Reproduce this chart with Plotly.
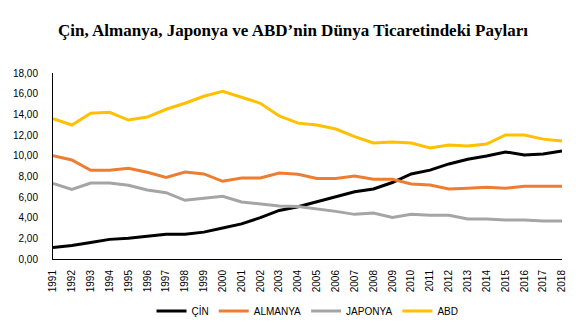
import plotly.graph_objects as go

years = [str(y) for y in range(1991, 2019)]
cin = [1.10, 1.30, 1.60, 1.90, 2.00, 2.20, 2.40, 2.40, 2.60, 3.00, 3.40, 4.00, 4.70, 5.05,
       5.55, 6.03, 6.50, 6.77, 7.40, 8.23, 8.60, 9.20, 9.65, 9.97, 10.36, 10.07, 10.16, 10.45]
almanya = [10.00, 9.58, 8.58, 8.58, 8.78, 8.39, 7.90, 8.42, 8.23, 7.52, 7.84, 7.84, 8.32, 8.20,
           7.80, 7.80, 8.03, 7.71, 7.71, 7.26, 7.16, 6.77, 6.84, 6.94, 6.84, 7.03, 7.03, 7.03]
japonya = [7.32, 6.74, 7.35, 7.35, 7.13, 6.68, 6.42, 5.68, 5.87, 6.07, 5.52, 5.32, 5.13, 5.08,
           4.87, 4.61, 4.32, 4.45, 4.03, 4.32, 4.23, 4.23, 3.87, 3.87, 3.78, 3.78, 3.68, 3.68]
abd = [13.58, 12.97, 14.10, 14.20, 13.45, 13.74, 14.49, 15.07, 15.75, 16.23, 15.65, 15.07, 13.84, 13.15,
       12.97, 12.58, 11.84, 11.23, 11.33, 11.23, 10.74, 11.03, 10.94, 11.13, 12.00, 12.00, 11.60, 11.42]

series = [("ÇİN", cin, "#000000"), ("ALMANYA", almanya, "#ED7D31"),
          ("JAPONYA", japonya, "#A5A5A5"), ("ABD", abd, "#FFC000")]

fig = go.Figure()
for name, vals, col in series:
    fig.add_trace(go.Scatter(x=years, y=vals, name=name, mode="lines",
                             line=dict(color=col, width=3)))

fig.update_layout(
    width=586, height=326,
    margin=dict(l=53, r=24, t=73, b=67, autoexpand=False),
    paper_bgcolor="white", plot_bgcolor="white",
    separators=",.",
    title=dict(text="Çin, Almanya, Japonya ve ABD’nin Dünya Ticaretindeki Payları",
               font=dict(family="Liberation Serif", size=17, color="#000000", weight="bold"),
               x=0.5, xanchor="center", y=1 - 30/326, yanchor="middle", yref="container"),
    font=dict(family="Liberation Sans", size=10, color="#000000"),
    showlegend=True,
    legend=dict(orientation="h", x=0.5, xanchor="center", y=1 - 311/326, yanchor="middle",
                yref="container", font=dict(size=10), itemwidth=30),
    xaxis=dict(type="category", showgrid=False, showline=True, linecolor="#000000",
               linewidth=1, ticks="", tickangle=-90, tickfont=dict(size=10),
               ticklabelstandoff=6, automargin=False),
    yaxis=dict(range=[0, 18], dtick=2, tickformat=".2f", showgrid=False, showline=True,
               linecolor="#000000", linewidth=1, ticks="", zeroline=False,
               tickfont=dict(size=10), ticklabelstandoff=12, automargin=False),
)

fig.write_html("out.html")
